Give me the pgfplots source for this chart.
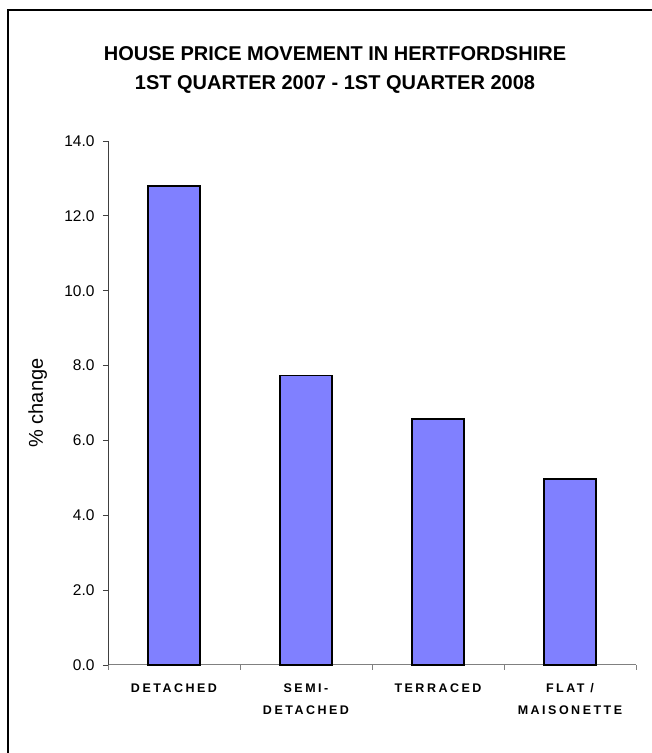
\documentclass[border=0pt]{standalone}
\usepackage{fontspec}
\setmainfont{Liberation Sans}
\newfontfamily\lblfont[LetterSpace=20]{Liberation Sans}
\usepackage{pgfplots}
\pgfplotsset{compat=1.18}
\definecolor{barblue}{RGB}{128,128,255}
\begin{document}
\begin{tikzpicture}[x=1pt,y=1pt]
\path[use as bounding box] (0,0) rectangle (652,753);
\draw[line width=2pt] (8,0) -- (8,743) -- (652,743);
\node[align=center, font=\fontsize{20}{29}\selectfont\bfseries] at (335,683.5)
  {HOUSE PRICE MOVEMENT IN HERTFORDSHIRE\\1ST QUARTER 2007 - 1ST QUARTER 2008};
\begin{axis}[
  at={(108pt,88pt)}, anchor=south west,
  scale only axis, width=528pt, height=524pt,
  xmin=-0.5, xmax=3.5, ymin=0, ymax=14,
  axis x line=bottom, axis y line=left,
  x axis line style={-, gray, line width=1pt},
  y axis line style={-, black!75, line width=0.8pt},
  ytick={0,2,...,14},
  yticklabel style={font=\fontsize{15.5}{18}\selectfont, xshift=-5pt, /pgf/number format/.cd, fixed, fixed zerofill, precision=1, assume math mode=true},
  xtick={0,1,2,3},
  xticklabels={DETACHED, SEMI-\\DETACHED, TERRACED, FLAT /\\MAISONETTE},
  xticklabel style={align=center, font=\lblfont\bfseries\fontsize{12.5}{22}\selectfont, yshift=-10pt},
  minor xtick={-0.5,0.5,1.5,2.5,3.5},
  every major x tick/.append style={draw=none},
  every minor x tick/.append style={draw=gray, line width=0.8pt},
  every major y tick/.append style={draw=black!75, line width=0.8pt},
  tick align=outside, major tick length=5pt, minor tick length=5pt,
  ylabel={\% change},
  ylabel style={at={(axis description cs:-0.133,0.5)}, anchor=center, font=\fontsize{20}{22}\selectfont},
  clip=false,
]
\addplot[ybar, bar width=52pt, fill=barblue, draw=black, line width=1.5pt]
  coordinates {(0,12.8) (1,7.74) (2,6.57) (3,4.97)};
\end{axis}
\end{tikzpicture}
\end{document}
